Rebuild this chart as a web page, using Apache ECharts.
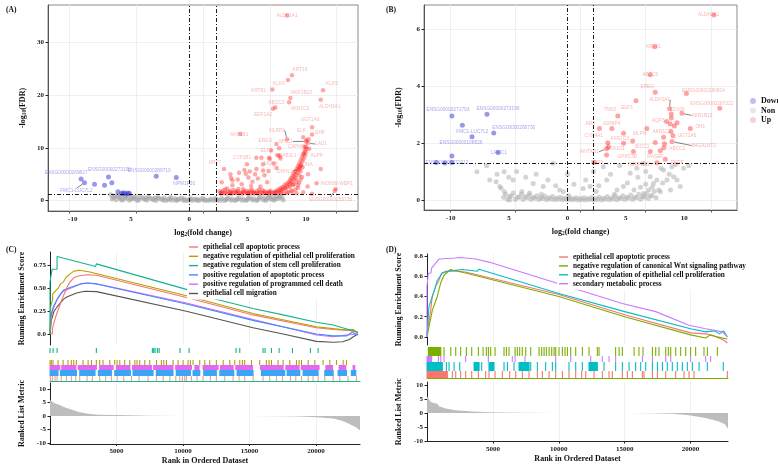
<!DOCTYPE html>
<html><head><meta charset="utf-8">
<script src="https://cdn.jsdelivr.net/npm/echarts@6/dist/echarts.min.js"></script>
<style>html,body{margin:0;padding:0;background:#fff}#c{width:778px;height:466px}</style>
</head><body><div id="c"></div><script>
// ---------------- Panel A volcano ----------------
const aUpGene = ['ALDH1A1','KRT16','KLK6','KRT81','KLK5','AKR1B10','ALDH3A1','ABCC3','AKR1C2','EEF1A2','UGT1A6','ELF','EHF','LAD1','NLRP2','MNC1','CAPN8','ALPP','AKR1B1','EREG','ELF3','CYP1B1','MRAB1L1','MLPH','KRT7','INA','DRHL2','INO80B-WBP1','ENSG00000255730'];
const aUpGeneX = [6.29,6.66,6.36,5.19,8.98,6.54,8.81,5.41,6.44,5.24,8.16,7.74,8.16,7.86,6.29,7.72,7.61,7.54,2.79,5.49,4.37,3.29,5.74,4.49,1.57,7.31,7.18,9.93,9.85];
const aUpGeneY = [35.0,23.7,22.8,21.0,20.9,19.4,19.1,17.6,18.6,17.4,13.9,11.45,12.5,10.9,11.6,11.2,10.2,8.9,12.6,10.7,8.1,6.9,8.4,6.9,6.0,6.6,6.1,2.15,1.9];
const aUpOtherX = [1.3,1.5,1.6,1.8,2.0,2.1,2.3,2.5,2.6,2.8,3.0,3.1,3.3,3.5,3.6,3.8,4.0,4.2,4.4,4.6,4.8,5.0,2.2,2.9,1.4,3.6,4.3,
  2.05,2.1,2.2,2.6,2.7,3.1,3.2,3.4,3.5,3.9,4.1,4.5,4.6,4.9,4.0,3.7,4.8,3.99,4.94,5.0,5.6,5.8,5.3,5.5,5.1,5.7,
  5.2,5.35,5.5,5.65,5.8,5.95,6.1,6.25,6.4,6.5,6.6,6.7,6.8,6.9,7.0,7.1,7.2,7.3,7.4,7.5,7.6,7.7,5.6,5.9,6.2,6.5,6.8,7.0,6.1,6.6,7.1,6.4,6.95,7.2,7.3,7.45,7.0,7.5,
  6.73,7.83,8.16,7.86,8.81,8.5,7.95,7.9,7.5,
  1.25,1.45,1.65,1.85,2.05,2.25,2.45,2.65,2.85,3.05,3.25,3.45,3.65,3.85,4.05,4.25,4.45,4.65,4.85,5.05,1.35,1.75,2.15,2.55,2.95,3.35,3.75,4.15,4.55,4.95,
  5.3,5.45,5.7,5.85,6.0,6.15,6.3,6.45,6.55,6.65,6.75,6.85,6.95,7.05,7.15,7.25,7.35,7.45,7.55,7.65,7.7,7.75,5.8,6.3,6.7,6.9,7.1,7.2,7.3,7.4];
const aUpOtherY = [1.5,1.9,1.4,2.3,1.6,1.35,2.0,1.5,1.8,1.4,2.2,1.6,1.35,1.9,1.5,1.7,1.4,2.1,1.5,1.8,1.4,1.6,2.9,3.1,3.5,2.8,2.7,
  5.0,4.3,3.8,4.0,5.3,5.8,5.1,4.4,5.5,5.0,4.2,5.7,4.8,5.6,6.0,3.6,3.5,8.1,8.1,7.9,8.6,8.0,7.0,6.2,9.5,9.9,
  1.5,1.7,1.9,2.1,2.35,2.6,2.9,3.2,3.5,3.9,4.3,4.7,5.1,5.5,6.0,6.5,7.0,7.6,8.2,8.8,9.5,10.2,1.5,1.8,2.2,2.6,3.1,3.6,1.4,1.9,2.4,1.6,4.2,4.8,5.6,6.3,1.4,1.6,
  2.96,2.7,1.3,5.0,6.0,3.3,9.8,11.6,12.0,
  1.8,1.5,2.1,1.6,1.9,1.45,1.7,2.2,1.55,1.75,1.9,1.45,2.05,1.5,1.8,1.6,1.95,1.45,1.7,1.9,1.35,1.35,1.4,1.4,1.35,1.45,1.35,1.4,1.35,1.4,
  1.35,1.55,1.75,2.0,2.2,2.45,2.7,3.0,3.3,3.6,4.0,4.4,4.9,5.3,5.8,6.3,6.8,7.4,8.0,8.6,9.2,9.8,1.4,1.5,1.7,2.1,2.9,3.4,4.0,4.5];
const aDownGene = ['ENSG00000269827','FMC1-LUC7L2','ENSG00000273199','ENSG00000289710','NPM1P30'];
const aDownGeneX = [-9.12,-8.87,-7.07,-3.5,-2.0];
const aDownGeneY = [4.1,3.4,4.5,4.6,4.4];
const aDownOtherX = [-8.12,-7.37,-6.82,-6.37,-6.1,-5.9,-5.75,-5.6,-5.5,-6.0];
const aDownOtherY = [3.1,2.9,3.4,1.7,1.4,1.5,1.3,1.45,1.35,1.3];
const aNonX = [-6.9,-6.7,-6.5,-6.4,-6.2,-6.0,-5.9,-5.7,-5.5,-5.3,-5.1,-4.9,-4.7,-4.4,-4.2,-4.0,-3.7,-3.5,-3.3,-3.0,-2.8,-2.5,-2.3,-2.0,-1.8,-1.5,-1.3,-1.0,-0.8,-0.5,-0.3,0,0.2,0.5,0.8,1.0,1.3,1.6,1.8,2.1,2.4,2.6,2.9,3.2,3.4,3.7,4.0,4.2,4.5,4.7,4.9,5.1,5.3,5.5,5.6,5.8,5.9,6.0,
  -6.8,-6.6,-6.3,-6.1,-5.8,-5.6,-5.4,-5.2,-5.0,-4.8,-4.5,-4.3,-4.1,-3.8,-3.6,-3.4,-3.1,-2.9,-2.6,-2.4,-2.1,-1.9,-1.6,-1.4,-1.1,-0.9,-0.6,-0.4,-0.1,0.1,0.4,0.6,0.9,1.1,1.4,1.7,1.9,2.2,2.5,2.7,3.0,3.3,3.5,3.8,4.1,4.3,4.6,4.8,5.0,5.2,5.4,5.7];
const aNonY = [1.1,0.6,0.2,1.0,0.5,0.15,0.9,0.4,0.1,0.7,0.3,0.05,0.6,0.25,0.1,0.5,0.2,0.05,0.45,0.15,0.05,0.35,0.1,0.05,0.3,0.1,0.05,0.25,0.05,0.15,0.05,0.2,0.05,0.12,0.05,0.25,0.08,0.05,0.3,0.1,0.05,0.35,0.1,0.05,0.4,0.15,0.05,0.5,0.2,0.05,0.6,0.25,0.1,0.8,0.35,1.0,0.5,0.15,
  0.3,0.9,0.7,0.2,0.6,1.0,0.3,0.5,0.8,0.2,0.6,0.4,0.7,0.3,0.5,0.6,0.3,0.5,0.2,0.6,0.4,0.2,0.5,0.3,0.1,0.4,0.3,0.2,0.4,0.3,0.1,0.3,0.4,0.1,0.4,0.2,0.5,0.3,0.2,0.5,0.3,0.2,0.6,0.35,0.2,0.7,0.4,0.3,0.9,0.5,0.3,0.7];

// ---------------- Panel B volcano ----------------
const bUpGene = ['ALDH3A1','KRT81','ABCC3','EREG','ENSG00000280604','ENSG00000287322','ELF3','TNS3','ALDH1A1','CD109','AKR1B10','AQP3','IGFBP4','ARX','OH1','AKR1C2','MLPH','AKR1C3','CYP4A1','UGT1A6','B4GALNT1','BICC1','AKR1C1','ANTXR1','ABCC2','GPRC5B','RASEF','SRR1','SERPINB5','PERP'];
const bUpGeneX = [10.22,5.68,5.35,5.73,8.12,10.68,4.25,2.86,6.83,6.96,7.78,6.88,2.4,1.45,8.42,5.09,4.0,3.3,2.09,7.09,7.01,5.73,2.14,2.0,6.12,4.06,5.35,1.04,5.86,6.5];
const bUpGeneY = [6.49,5.38,4.39,3.78,3.74,3.22,3.48,2.95,3.2,3.02,3.04,2.67,2.51,2.51,2.51,2.51,2.07,1.99,2.01,2.25,2.05,2.02,1.87,1.8,1.73,1.7,1.7,1.32,1.31,1.43];
const bUpOtherX = [2.0,6.37,6.44,7.4,6.94,6.96,6.39,3.3,6.6,7.2];
const bUpOtherY = [1.58,2.2,1.97,2.71,2.4,2.88,1.83,2.34,2.75,2.6];
const bDownGene = ['ENSG00000271793','ENSG00000273199','FMC1-LUC7L2','ENSG00000269730','ENSG00000108826','LRRC1','','ENSG00000272612','',''];
const bDownGeneX = [-9.86,-7.17,-9.06,-6.65,-8.32,-6.32,-9.86,-9.86,-11.06,-10.4];
const bDownGeneY = [2.95,3.01,2.62,2.35,2.22,1.67,1.54,1.32,1.32,1.3];
const bNonX = [-5.9,-5.6,-5.3,-5.0,-4.7,-4.4,-4.1,-3.8,-3.5,-3.2,-2.9,-2.6,-2.3,-2.0,-1.7,-1.4,-1.1,-0.8,-0.5,-0.2,0.1,0.4,0.7,1.0,1.3,1.6,1.9,2.2,2.5,2.8,3.1,3.4,3.7,4.0,4.3,4.6,4.9,5.2,5.5,5.8,
  -7.94,-5.86,-6.96,-6.19,-5.83,-5.17,-3.63,-2.09,-2.86,-1.32,0.73,1.75,2.01,3.29,3.81,4.32,4.83,5.35,6.37,7.01,7.91,7.65,6.12,5.86,6.63,7.14,5.22,5.6,6.17,4.83,-5.43,-6.09,-6.47,-4.5,-3.9,-3.0,-1.6,-0.9,0.2,1.2,2.6,4.6,5.0,
  -5.75,-5.45,-5.15,-4.85,-4.55,-4.25,-3.95,-3.65,-3.35,-3.05,-2.75,-2.45,-2.15,-1.85,-1.55,-1.25,-0.95,-0.65,-0.35,-0.05,0.25,0.55,0.85,1.15,1.45,1.75,2.05,2.35,2.65,2.95,3.25,3.55,3.85,4.15,4.45,4.75,5.05,5.35,5.65,6.0,
  -6.4,-7.2,-5.5,-4.9,-4.2,-3.4,-2.5,-1.9,-1.0,-0.5,0.4,1.0,1.4,2.3,2.8,3.0,3.6,4.1,4.4,5.0,5.5,6.3,6.8,7.3,8.3,6.9,7.4];
const bNonY = [0.1,0.02,0.15,0.02,0.1,0.02,0.08,0.02,0.06,0.02,0.05,0.01,0.04,0.01,0.03,0.01,0.02,0.01,0.02,0.0,0.01,0.0,0.02,0.0,0.02,0.0,0.03,0.01,0.04,0.01,0.05,0.02,0.06,0.02,0.08,0.03,0.1,0.05,0.15,0.08,
  0.99,0.99,0.7,0.47,0.29,0.7,0.58,1.29,0.47,0.29,0.47,1.17,0.7,0.47,0.94,1.11,1.29,0.82,1.05,1.17,1.11,0.47,0.29,0.7,0.7,0.82,0.35,0.58,1.11,0.23,0.0,0.41,0.64,0.3,0.25,0.2,0.35,0.15,0.4,0.3,0.2,0.45,0.55,
  0.2,0.12,0.25,0.1,0.2,0.12,0.18,0.1,0.15,0.08,0.14,0.08,0.12,0.07,0.1,0.06,0.09,0.05,0.08,0.05,0.08,0.05,0.09,0.05,0.1,0.06,0.12,0.07,0.14,0.08,0.15,0.1,0.18,0.1,0.2,0.12,0.22,0.15,0.3,0.35,
  0.9,1.2,0.8,1.0,0.8,0.9,0.7,0.5,0.9,0.55,0.7,1.0,0.5,0.9,0.35,1.2,0.6,0.35,0.8,1.0,0.45,0.6,0.9,1.25,1.2,0.35,0.7];

// tick labels of the volcano x axes as printed
const volTickValues = [-10,-5,0,5,10];
const volTickText = ['-10','5','0','5','10'];

// ---------------- Panel C GSEA ----------------
const cSetNames = ['epithelial cell apoptotic process','negative regulation of epithelial cell proliferation','negative regulation of stem cell proliferation','positive regulation of apoptotic process','positive regulation of programmed cell death','epithelial cell migration'];
const cCurveApoptotic = [[0,0],[180,0],[180,0.06],[350,0.15],[500,0.22],[700,0.30],[900,0.38],[1100,0.45],[1300,0.52],[1500,0.57],[1800,0.62],[2200,0.64],[2800,0.65],[3500,0.645],[10250,0.40],[15260,0.21],[20020,0.07],[21280,0.05],[22500,0.04],[23150,0.02]];
const cCurveEpiProlif = [[0,0],[50,0.30],[200,0.38],[200,0.44],[400,0.47],[600,0.50],[800,0.55],[1000,0.57],[1200,0.62],[1500,0.66],[1800,0.69],[2200,0.70],[3000,0.68],[10250,0.42],[15260,0.225],[20020,0.08],[21280,0.06],[22280,0.045],[22800,0.05],[23150,0.007]];
const cCurveStem = [[0,0],[0,0.57],[150,0.57],[150,0.71],[530,0.71],[530,0.85],[3430,0.74],[3480,0.77],[10250,0.49],[12250,0.39],[15260,0.28],[17520,0.21],[20020,0.13],[21280,0.10],[23150,0.02]];
const cCurvePosApop = [[0,0.05],[100,0.22],[250,0.30],[500,0.37],[750,0.43],[1000,0.48],[1500,0.51],[2300,0.55],[2800,0.56],[3500,0.55],[10250,0.33],[15260,0.15],[20020,0.0],[21280,-0.02],[22300,-0.02],[22700,0.02],[23150,-0.01]];
const cCurveProgDeath = [[0,0],[100,0.20],[300,0.30],[600,0.40],[1000,0.47],[1500,0.50],[2300,0.55],[2800,0.56],[3500,0.55],[10250,0.34],[15260,0.16],[20020,-0.01],[21280,-0.03],[22300,-0.01],[23150,0.0]];
const cCurveMigration = [[0,0],[100,0.15],[300,0.25],[600,0.31],[1000,0.38],[1300,0.41],[2000,0.45],[2600,0.47],[3500,0.465],[10250,0.25],[15260,0.07],[17520,0.0],[20020,-0.08],[21280,-0.09],[22000,-0.085],[22500,-0.06],[22800,-0.03],[23150,0.0]];
const cHitsStem = [0,230,530,3480,7690,7790,7890,8070,8200,9770,10450,13980,14260,16010,16160,16640,17220,18220,19570,20150];
const cHitsEpiProlif = [0,100,225,600,980,1350,1600,1780,1980,2480,2860,3110,3480,3730,3980,4490,4860,5040,5240,5610,5990,6370,6540,6740,7120,7490,8000,8370,8550,8750,9250,9620,10000,10370,10550,10750,11250,11630,12000,12500,13010,13510,13880,14260,14460,14630,15140,15760,16260,16460,16640,17140,17520,18020,18520,18720,18900,19400,19900,20520,21030,21530,22030,22280];
const cHitsProgDeath = [[0,730],[880,1940],[2120,3480],[3730,4740],[4990,6000],[6200,7620],[7790,9240],[9440,10630],[10880,11200],[11500,12630],[12810,13760],[13960,15210],[15810,17520],[17720,18720],[18890,20220],[20730,21230],[21730,22230],[22780,22900]];
const cHitsPosApop = [[0,600],[780,1980],[2230,3380],[3630,4610],[4860,6040],[6240,7740],[7990,9240],[9490,10550],[10750,11250],[11550,12500],[12760,13810],[14060,15260],[15890,17640],[17820,18770],[19020,20150],[20650,21280],[21650,22280],[22650,22980]];
const cHitsApoptotic = [25,175,375,525,850,1230,1600,1930,2230,2780,3180,3730,4180,4610,5040,5540,6120,6690,7370,8000,8500,9000,9450,9750,9950,10120,10250,10630,11050,11500,12050,12500,13130,13760,14210,14630,15260,16010,16510,17020,17470,18070,18470,18900,19400,19770,20150,20650,21280,21780,22400,23030];
const cMetric = [[0,6.0],[150,5.3],[350,4.8],[700,4.2],[1000,3.5],[1250,3.0],[1600,2.4],[2000,1.8],[2250,1.4],[3000,0.8],[3700,0.5],[5000,0.35],[7500,0.1],[10000,0.05],[15000,0.0],[17500,-0.05],[18800,-0.15],[20000,-0.4],[21300,-0.95],[22000,-1.8],[22500,-3.0],[23000,-4.2],[23300,-5.4]];

// ---------------- Panel D GSEA ----------------
const dSetNames = ['epithelial cell apoptotic process','negative regulation of canonical Wnt signaling pathway','negative regulation of epithelial cell proliferation','secondary metabolic process'];
const dCurveApoptotic = [[0,0],[0,0.05],[250,0.23],[400,0.40],[660,0.50],[910,0.56],[1100,0.63],[1420,0.65],[2170,0.653],[3000,0.64],[10000,0.42],[15000,0.22],[20000,0.04],[21140,0.03],[21800,0.01],[22500,-0.03],[22790,-0.06]];
const dCurveWnt = [[0,0],[250,0.16],[350,0.15],[400,0.26],[780,0.40],[1030,0.53],[1290,0.61],[1790,0.667],[2000,0.66],[3000,0.63],[10000,0.40],[15000,0.20],[20000,0.02],[21140,-0.01],[21500,0.02],[22000,0.0],[22790,-0.02]];
const dCurveEpiProlif = [[0,0],[100,0.20],[150,0.30],[530,0.45],[780,0.56],[1160,0.63],[1540,0.65],[2680,0.667],[3820,0.65],[3950,0.67],[10000,0.43],[15000,0.25],[20000,0.08],[21140,0.05],[21800,0.06],[22200,0.03],[22500,0.06],[22790,0.0]];
const dCurveSecondary = [[0,0],[0,0.50],[100,0.50],[100,0.63],[300,0.63],[350,0.68],[500,0.68],[660,0.73],[910,0.77],[2170,0.78],[2500,0.785],[3690,0.77],[4700,0.74],[14820,0.33],[17350,0.25],[19880,0.115],[21140,0.08],[21600,0.07],[22410,0.05],[22790,0.0]];
const dHitsWnt = [[100,1040],1290,1800,2175,2550,2985,3390,3895,4250,4500,4655,4830,5160,5840,6020,6220,6680,6850,7030,7230,7490,7865,8500,8700,8880,9050,9260,9460,9640,9760,10015,10270,10470,10650,10900,11280,11785,12290,12920,13050,14310,14570,14820,15710,16080,16390,17100,17350,17600,18110,18310,18490,18870,19245,19625,20000,20380,21015,21270,22030];
const dHitsSecondary = [[0,350],860,1040,1290,2930,4650,6470,6680,7435,9760,10900,12420,13300,13810,14310,16340,17100,18110,18490,20000,21140,21520];
const dHitsEpiProlif = [[0,1160],1470,1670,2050,2480,[3570,3950],4150,[4700,5080],5840,6100,6600,[6980,7740],7865,8370,9000,9510,9760,10770,11280,11785,[12290,12920],13430,14310,14820,15330,15830,16210,16590,17100,17480,17860,18230,18610,18990,19370,19750,20130,20640,21270,22480];
const dHitsApoptotic = [[0,1540],1920,2175,2550,2930,3390,3895,4450,4700,5160,5715,6270,6730,7230,7740,8370,8750,9260,9760,10270,10770,11280,11735,12040,12670,13300,13810,14060,14820,15200,15580,16340,16460,17100,17480,18110,18870,19500,19880,20260,22790];
const dMetric = [[0,6.0],[120,5.2],[280,3.9],[500,3.6],[785,3.3],[911,2.4],[1200,2.0],[1417,1.6],[2175,1.0],[3440,0.5],[4700,0.25],[7000,0.1],[10000,0.03],[15000,0.0],[17000,-0.05],[18600,-0.3],[19880,-0.8],[21140,-1.8],[22150,-3.0],[22600,-4.0],[22840,-5.6]];
const rankTicks = [5000, 10000, 15000, 20000];

// ---------------- styling ----------------
const SERIF = 'Liberation Serif', SANS = 'Liberation Sans';
const tickText = {fontFamily: SERIF, fontWeight: 'bold', fontSize: 7, color: '#1a1a1a'};
const nameText = {fontFamily: SERIF, fontWeight: 'bold', fontSize: 8, color: '#111',
  rich: {s: {fontFamily: SERIF, fontWeight: 'bold', fontSize: 5.5, color: '#111', padding: [4, 0, 0, 0]}}};
const labelOffA = {'ALDH1A1':[0,0],'KRT16':[8,-6],'KLK6':[-9,4],'KRT81':[-14,1],'KLK5':[9,-6],'AKR1B10':[11,-5],'ALDH3A1':[9,7],'ABCC3':[1,-5],'AKR1C2':[11,6],'EEF1A2':[-10,6],'UGT1A6':[-2,-7],'ELF':[-5,-9],'EHF':[8,-2],'LAD1':[13,1],'NLRP2':[-10,-9],'MNC1':[-20,0],'CAPN8':[-9,0],'ALPP':[13,2],'AKR1B1':[-1,1],'EREG':[-11,-3],'ELF3':[5,-7],'CYP1B1':[-5,-7],'MRAB1L1':[6,-1],'MLPH':[8,-1],'KRT7':[-9,-6],'INA':[8,-1],'DRHL2':[-14,3],'INO80B-WBP1':[1,-6],'ENSG00000255730':[-4,9],
  'ENSG00000269827':[-15,-6],'FMC1-LUC7L2':[-8,8],'ENSG00000273199':[1,-7],'ENSG00000289710':[-7,-6],'NPM1P30':[8,6]};
const lineA = ['LAD1','NLRP2','MNC1','DRHL2','ENSG00000255730','FMC1-LUC7L2'];
const labelOffB = {'ALDH3A1':[-5,0],'KRT81':[-1,0],'ABCC3':[0,0],'EREG':[-8,-6],'ENSG00000280604':[17,-3],'ENSG00000287322':[-8,-5],'ELF3':[-9,7],'TNS3':[-8,-6],'ALDH1A1':[-10,-9],'CD109':[6,-4],'AKR1B10':[20,2],'AQP3':[-12,-3],'IGFBP4':[0,-5],'ARX':[-9,-5],'OH1':[10,-2],'AKR1C2':[15,3],'MLPH':[7,-7],'AKR1C3':[-4,-5],'CYP4A1':[-14,-7],'UGT1A6':[14,0],'B4GALNT1':[32,4],'BICC1':[-13,4],'AKR1C1':[7,2],'ANTXR1':[-17,3],'ABCC2':[17,-2],'GPRC5B':[-6,5],'RASEF':[5,5],'SRR1':[3,0],'SERPINB5':[-17,2],'PERP':[12,3],
  'ENSG00000271793':[-4,-6],'ENSG00000273199':[11,-6],'FMC1-LUC7L2':[10,6],'ENSG00000269730':[20,-5],'ENSG00000108826':[-11,6],'LRRC1':[1,0],'ENSG00000272612':[-5,0]};
const lineB = ['ALDH1A1','AKR1B10','B4GALNT1','ANTXR1'];

function zip(xs, ys) { return xs.map((x, i) => [x, ys[i]]); }
function volSeries(name, pts, genes, color, opacity, size, xIdx, yIdx, offs, lines, textColor) {
  const data = pts.map((p, i) => {
    const g = genes ? (genes[i] || '') : '';
    const it = {value: p, name: g};
    if (g) { it.label = {show: true}; if (lines.indexOf(g) >= 0) it.labelLine = {show: true}; }
    return it;
  });
  return {type: 'scatter', name, xAxisIndex: xIdx, yAxisIndex: yIdx, symbolSize: size, data,
    itemStyle: {color, opacity}, animation: false, emphasis: {disabled: true},
    label: {show: false, position: 'inside', formatter: '{b}', fontSize: 4.8, fontFamily: SANS, color: textColor},
    labelLine: {show: false, lineStyle: {color: '#333', width: 0.6}},
    labelLayout: p => { const o = offs[p.text]; return o ? {dx: o[0], dy: o[1]} : {}; }};
}
function thresholdLines() {
  return {silent: true, symbol: 'none', label: {show: false}, animation: false,
    lineStyle: {color: '#000', width: 0.9, type: [4, 2, 1, 2]},
    data: [{xAxis: -1}, {xAxis: 1}, {yAxis: 1.301}]};
}
function rugSeries(hits, color, center, h, xIdx, yIdx) {
  const data = hits.map(r => Array.isArray(r) ? r : [r, r]);
  return {type: 'custom', xAxisIndex: xIdx, yAxisIndex: yIdx, data, silent: true, animation: false,
    renderItem: (params, api) => {
      const s = api.coord([api.value(0), center]);
      const e = api.coord([api.value(1), center]);
      return {type: 'rect', shape: {x: s[0] - 0.5, y: s[1] - h / 2, width: Math.max(e[0] - s[0], 0) + 1.1, height: h}, style: {fill: color}};
    }};
}
function esLine(name, pts, color, xIdx, yIdx) {
  return {type: 'line', name, data: pts, xAxisIndex: xIdx, yAxisIndex: yIdx, showSymbol: false, symbol: 'none',
    lineStyle: {color, width: 1.1}, itemStyle: {color}, animation: false, emphasis: {disabled: true}};
}
const cColors = ['#F8766D', '#B79F00', '#14B38E', '#3D8CFF', '#E368F0', '#555555'];
const dColors = ['#F8766D', '#7CAE00', '#00BFC4', '#C77CFF'];

const vSplit = {show: true, lineStyle: {color: '#ebebeb', width: 0.8}};
function volX(grid, min, max) {
  return {gridIndex: grid, type: 'value', min, max,
    axisLine: {show: true, onZero: false, lineStyle: {color: '#555'}},
    axisTick: {show: true, customValues: volTickValues, length: 2.5, lineStyle: {color: '#555'}},
    axisLabel: {show: false}, splitLine: vSplit};
}
function volLabelX(grid, min, max) {
  return {gridIndex: grid, type: 'value', min, max, position: 'bottom',
    axisLine: {show: false}, axisTick: {show: false}, splitLine: {show: false},
    axisLabel: Object.assign({customValues: volTickValues, margin: 5,
      formatter: v => volTickText[volTickValues.indexOf(v)]}, tickText),
    name: 'log{s|2}(fold change)', nameLocation: 'middle', nameGap: 17, nameTextStyle: nameText};
}
function gseaX(grid, max, showLabels, lineShow, lineColor) {
  return {gridIndex: grid, type: 'value', min: 0, max,
    axisLine: {show: lineShow, onZero: false, lineStyle: {color: lineColor || '#222', width: 1}},
    axisTick: {show: showLabels, customValues: rankTicks, length: 2, lineStyle: {color: '#222'}},
    axisLabel: Object.assign({show: showLabels, customValues: rankTicks, margin: 4, formatter: v => String(v)}, tickText),
    splitLine: {show: grid !== 3 && grid !== 6, lineStyle: {color: '#ececec', width: 0.8}},
    name: showLabels ? 'Rank in Ordered Dataset' : '', nameLocation: 'middle', nameGap: 13, nameTextStyle: nameText};
}
function yAx(grid, min, max, vals, fmt, name, gap, extra) {
  return Object.assign({gridIndex: grid, type: 'value', min, max,
    axisLine: {show: true, onZero: false, lineStyle: {color: '#222'}},
    axisTick: {show: true, customValues: vals, length: 2.5, lineStyle: {color: '#222'}},
    axisLabel: Object.assign({customValues: vals, margin: 4, formatter: fmt}, tickText),
    splitLine: {show: false},
    name, nameLocation: 'middle', nameGap: gap, nameRotate: 90, nameTextStyle: nameText}, extra || {});
}

const chart = echarts.init(document.getElementById('c'), null, {width: 778, height: 466});
const legendText = {fontFamily: SERIF, fontWeight: 'bold', fontSize: 7.3, lineHeight: 8, color: '#111'};
const option = {
  backgroundColor: '#fff',
  animation: false,
  title: [
    {text: '(A)', left: 1, top: 1, textStyle: {fontFamily: SERIF, fontWeight: 'bold', fontSize: 7.5, color: '#111'}},
    {text: '(B)', left: 381, top: 1, textStyle: {fontFamily: SERIF, fontWeight: 'bold', fontSize: 7.5, color: '#111'}},
    {text: '(C)', left: 1, top: 241, textStyle: {fontFamily: SERIF, fontWeight: 'bold', fontSize: 7.5, color: '#111'}},
    {text: '(D)', left: 381, top: 241, textStyle: {fontFamily: SERIF, fontWeight: 'bold', fontSize: 7.5, color: '#111'}}
  ],
  legend: [
    {data: [{name: 'Down', itemStyle: {color: '#7f7fec'}}, {name: 'Non', itemStyle: {color: '#d6d6d6'}}, {name: 'Up', itemStyle: {color: '#f28a8a'}}],
      left: 745, top: 92, orient: 'vertical', icon: 'circle', itemWidth: 6, itemHeight: 6, itemGap: 1.5, selectedMode: false,
      textStyle: {fontFamily: SERIF, fontWeight: 'bold', fontSize: 8, color: '#111'}},
    {data: cSetNames.map((n, i) => ({name: n, itemStyle: {color: cColors[i]}, lineStyle: {color: cColors[i]}})),
      left: 187, top: 242, orient: 'vertical', icon: 'rect', itemWidth: 9, itemHeight: 1.4, itemGap: 1.3, selectedMode: false,
      backgroundColor: '#fff', padding: [1, 3, 2, 2], textStyle: legendText},
    {data: dSetNames.map((n, i) => ({name: n, itemStyle: {color: dColors[i]}, lineStyle: {color: dColors[i]}})),
      left: 557, top: 252, orient: 'vertical', icon: 'rect', itemWidth: 9, itemHeight: 1.4, itemGap: 0.9, selectedMode: false,
      backgroundColor: '#fff', padding: [1, 3, 2, 2], textStyle: legendText}
  ],
  grid: [
    {left: 48, top: 5, width: 310, height: 206, show: true, borderColor: '#8a8a8a', borderWidth: 1, backgroundColor: '#fff'},
    {left: 424, top: 5, width: 313, height: 205, show: true, borderColor: '#8a8a8a', borderWidth: 1, backgroundColor: '#fff'},
    {left: 50, top: 252, width: 310, height: 93},
    {left: 50, top: 346, width: 310, height: 35},
    {left: 50, top: 383, width: 310, height: 63},
    {left: 427, top: 254, width: 301, height: 91},
    {left: 427, top: 346, width: 301, height: 32},
    {left: 427, top: 382, width: 301, height: 59.5}
  ],
  xAxis: [
    volX(0, -11.6, 11.6), volLabelX(0, -12.12, 14.47),
    volX(1, -12, 12), volLabelX(1, -12.29, 14.52),
    gseaX(2, 23300, false, false), gseaX(3, 23300, false, true, '#1DB88A'), gseaX(4, 23300, true, true),
    gseaX(5, 22840, false, false), gseaX(6, 22840, false, true, '#7CAE00'), gseaX(7, 22840, true, true)
  ],
  yAxis: [
    yAx(0, -1.95, 37, [0, 10, 20, 30], v => String(v), '-log{s|10}(FDR)', 20, {splitLine: vSplit, axisLine: {show: true, onZero: false, lineStyle: {color: '#555'}}}),
    yAx(1, -0.35, 6.84, [0, 2, 4, 6], v => String(v), '-log{s|10}(FDR)', 20, {splitLine: vSplit, axisLine: {show: true, onZero: false, lineStyle: {color: '#555'}}}),
    yAx(2, -0.12, 0.9, [0, 0.25, 0.5, 0.75], v => v === 0 ? '0.0' : v.toFixed(2), 'Running Enrichment Score', 24),
    {gridIndex: 3, type: 'value', min: 0, max: 35, inverse: true, show: false},
    yAx(4, -10.4, 12.3, [-10, -5, 0, 5, 10], v => String(v), 'Ranked List Metric', 24),
    yAx(5, -0.08, 0.82, [0, 0.2, 0.4, 0.6, 0.8], v => v.toFixed(1), 'Running Enrichment Score', 24),
    {gridIndex: 6, type: 'value', min: 0, max: 32, inverse: true, show: false},
    yAx(7, -10.2, 11.1, [-10, -5, 0, 5, 10], v => String(v), 'Ranked List Metric', 24)
  ],
  series: [
    // A
    volSeries('Non', zip(aNonX, aNonY), null, '#a3a3a3', 0.55, 5, 0, 0, labelOffA, lineA, '#888'),
    volSeries('Down', zip(aDownGeneX, aDownGeneY).concat(zip(aDownOtherX, aDownOtherY)), aDownGene, '#3434d6', 0.5, 5, 0, 0, labelOffA, lineA, '#4b4be0'),
    Object.assign(volSeries('Up', zip(aUpGeneX, aUpGeneY).concat(zip(aUpOtherX, aUpOtherY)), aUpGene, '#ff1a1a', 0.38, 4.5, 0, 0, labelOffA, lineA, '#ef3b3b'), {markLine: thresholdLines()}),
    // B
    volSeries('Non', zip(bNonX, bNonY), null, '#b0b0b0', 0.55, 5, 2, 1, labelOffB, lineB, '#888'),
    volSeries('Down', zip(bDownGeneX, bDownGeneY), bDownGene, '#3434d6', 0.5, 5, 2, 1, labelOffB, lineB, '#4b4be0'),
    Object.assign(volSeries('Up', zip(bUpGeneX, bUpGeneY).concat(zip(bUpOtherX, bUpOtherY)), bUpGene, '#ff1a1a', 0.4, 5, 2, 1, labelOffB, lineB, '#ef3b3b'), {markLine: thresholdLines()}),
    // C curves
    esLine(cSetNames[5], cCurveMigration, cColors[5], 4, 2),
    esLine(cSetNames[4], cCurveProgDeath, cColors[4], 4, 2),
    esLine(cSetNames[3], cCurvePosApop, cColors[3], 4, 2),
    esLine(cSetNames[0], cCurveApoptotic, cColors[0], 4, 2),
    esLine(cSetNames[1], cCurveEpiProlif, cColors[1], 4, 2),
    esLine(cSetNames[2], cCurveStem, cColors[2], 4, 2),
    rugSeries(cHitsStem, cColors[2], 4.5, 5, 5, 3),
    rugSeries(cHitsEpiProlif, cColors[1], 16.5, 5, 5, 3),
    rugSeries(cHitsProgDeath, cColors[4], 21.5, 5, 5, 3),
    rugSeries(cHitsPosApop, '#39a6f5', 27, 6, 5, 3),
    rugSeries(cHitsApoptotic, '#f59a94', 32.5, 5, 5, 3),
    {type: 'line', data: cMetric, xAxisIndex: 6, yAxisIndex: 4, showSymbol: false, symbol: 'none', lineStyle: {width: 0}, areaStyle: {color: '#bdbdbd', opacity: 1}, animation: false, silent: true},
    // D curves
    esLine(dSetNames[0], dCurveApoptotic, dColors[0], 7, 5),
    esLine(dSetNames[1], dCurveWnt, dColors[1], 7, 5),
    esLine(dSetNames[2], dCurveEpiProlif, dColors[2], 7, 5),
    esLine(dSetNames[3], dCurveSecondary, dColors[3], 7, 5),
    rugSeries(dHitsWnt, dColors[1], 5.5, 9, 8, 6),
    rugSeries(dHitsSecondary, dColors[3], 13, 6, 8, 6),
    rugSeries(dHitsEpiProlif, dColors[2], 20.5, 9, 8, 6),
    rugSeries(dHitsApoptotic, dColors[0], 28.5, 7, 8, 6),
    {type: 'line', data: dMetric, xAxisIndex: 9, yAxisIndex: 7, showSymbol: false, symbol: 'none', lineStyle: {width: 0}, areaStyle: {color: '#bdbdbd', opacity: 1}, animation: false, silent: true}
  ]
};
chart.setOption(option);
</script></body></html>
